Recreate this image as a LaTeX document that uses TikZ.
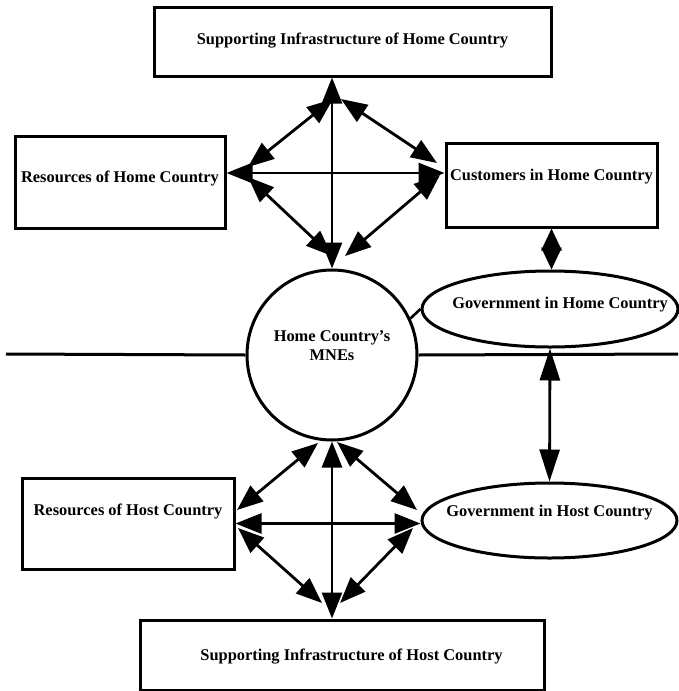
\documentclass[tikz,border=0pt]{standalone}
\usepackage{fontspec}
\setmainfont{Liberation Serif}
\usetikzlibrary{arrows.meta,shapes.geometric}

\begin{document}
\begin{tikzpicture}[x=1pt,y=-1pt,
  font=\fontsize{16.4}{19}\selectfont\bfseries,
  box/.style={draw,line width=3pt,inner sep=0pt,text height=12pt},
  oval/.style={draw,ellipse,line width=3pt,inner sep=0pt,text height=12pt},
  dbl/.style={line width=2.8pt,{Triangle[length=26pt,width=20pt]}-{Triangle[length=26pt,width=20pt]}}]
  \useasboundingbox (0,0) rectangle (678,691);
  % home country side
  \node[box,minimum width=397pt,minimum height=69pt,text depth=6pt] (suphome) at (352.5,41.5) {Supporting Infrastructure of Home Country};
  \node[box,minimum width=210pt,minimum height=92pt,text depth=11pt] (reshome) at (120,182) {Resources of Home Country};
  \node[box,minimum width=211pt,minimum height=84pt,text depth=21pt] (custhome) at (551.5,185) {Customers in Home Country};
  \node[oval,minimum width=256pt,minimum height=76pt,text depth=13pt] (govhome) at (550,309) {\makebox[0pt]{\hspace*{20pt}Government in Home Country}};
  \node[draw,circle,line width=3pt,inner sep=0pt,minimum size=170pt,align=center,text depth=18pt] (mne) at (332,355) {Home Country's\\MNEs};
  % host country side
  \node[box,minimum width=212pt,minimum height=91pt,text depth=28pt] (reshost) at (128,523.5) {Resources of Host Country};
  \node[oval,minimum width=255pt,minimum height=75pt,text depth=20pt] (govhost) at (549.5,520.5) {\makebox[0pt]{Government in Host Country}};
  \node[box,minimum width=404pt,minimum height=70pt,text depth=1pt] (suphost) at (342,655) {\hspace*{19pt}Supporting Infrastructure of Host Country};
  % border line
  \coordinate (edgeL) at (6,354);
  \coordinate (edgeR) at (678,354);
  \draw[line width=3pt] (edgeL) -- (mne.west) (mne.east) -- (edgeR);
  \draw[line width=2.6pt] (mne.25) -- (govhome.west);
  % upper diamond
  \coordinate (htl) at (333,99);  \coordinate (htr) at (341,99);
  \coordinate (hlu) at (248,167); \coordinate (hld) at (248,177);
  \coordinate (hru) at (437,163); \coordinate (hrd) at (440,175);
  \coordinate (hbl) at (332,256); \coordinate (hbr) at (345,256);
  \foreach \p/\q in {htl/hlu,htr/hru,hld/hbl,hrd/hbr} {\draw[dbl] (\p) -- (\q);}
  \draw[dbl] (mne.north |- suphome.south) -- (mne.north);
  \draw[dbl] ([yshift=9pt]reshome.east) -- ([yshift=12pt]custhome.west);
  % lower diamond
  \coordinate (ltl) at (318,443); \coordinate (ltr) at (337,442);
  \coordinate (llu) at (237,510); \coordinate (lru) at (417,510);
  \coordinate (lld) at (238,528); \coordinate (lrd) at (413,528);
  \coordinate (lbl) at (322,603); \coordinate (lbr) at (340,603);
  \foreach \p/\q in {ltl/llu,ltr/lru,lld/lbl,lrd/lbr} {\draw[dbl] (\p) -- (\q);}
  \draw[dbl] (mne.south) -- (mne.south |- suphost.north);
  \draw[dbl] (reshost.east) -- (reshost.east -| govhost.west);
  % governments
  \draw[line width=2.8pt,{Triangle[length=22pt,width=20pt]}-{Triangle[length=22pt,width=20pt]}] (custhome.south) -- (custhome.south |- govhome.north);
  \draw[line width=2.8pt,{Triangle[length=32pt,width=20pt]}-{Triangle[length=32pt,width=20pt]}] (govhome.south) -- (govhost.north);
\end{tikzpicture}
\end{document}
